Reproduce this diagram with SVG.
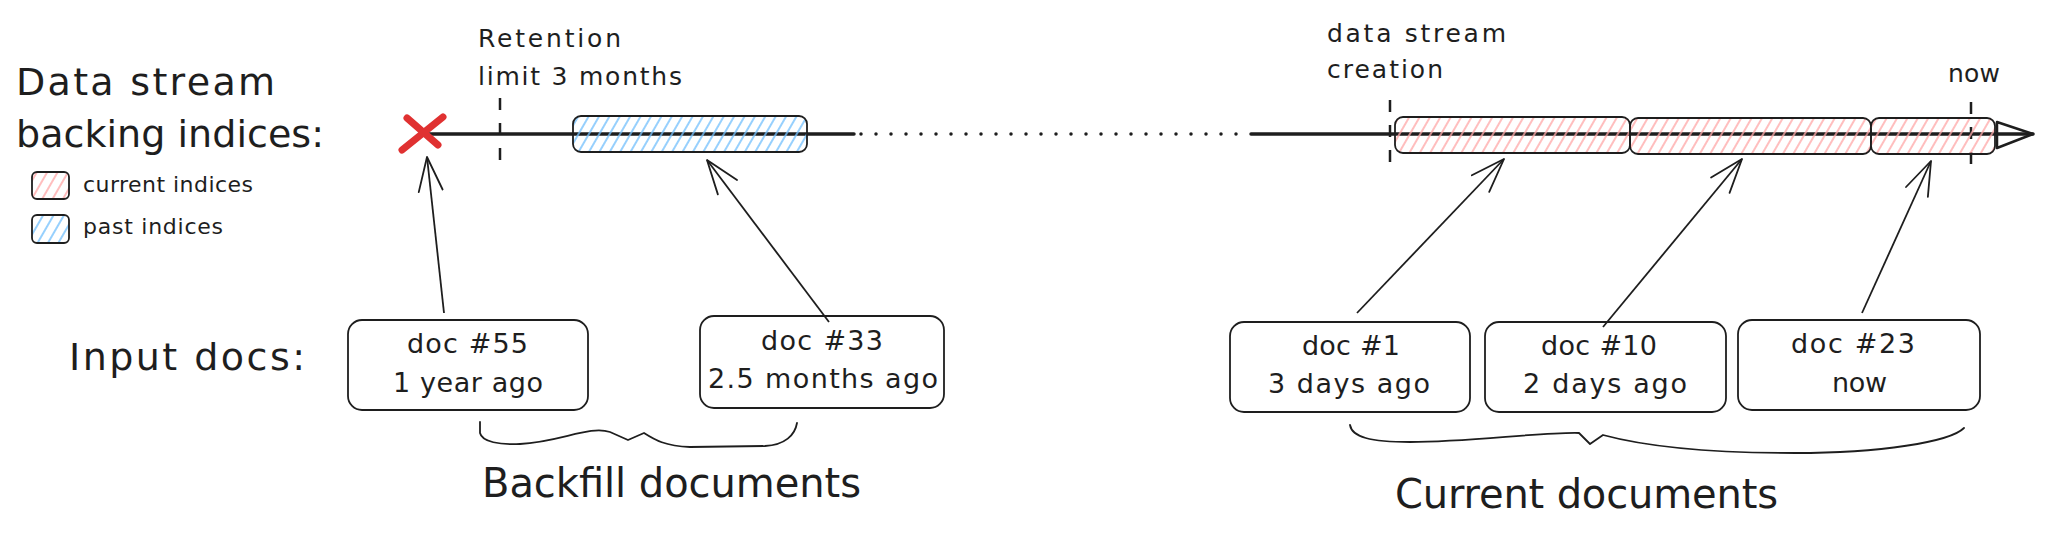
<svg xmlns="http://www.w3.org/2000/svg" width="2048" height="540" viewBox="0 0 2048 540">
<defs>
<pattern id="hPink" patternUnits="userSpaceOnUse" width="9" height="9" patternTransform="rotate(30)">
<line x1="1" y1="0" x2="1" y2="9" stroke="#ffa8a8" stroke-width="1.5"/>
</pattern>
<pattern id="hBlue" patternUnits="userSpaceOnUse" width="9" height="9" patternTransform="rotate(30)">
<line x1="1" y1="0" x2="1" y2="9" stroke="#74c0fc" stroke-width="1.5"/>
</pattern>
<marker id="ah" markerUnits="userSpaceOnUse" markerWidth="40" markerHeight="40" refX="36" refY="14" orient="auto">
<path d="M2,2 L36,14 L2,26" fill="none" stroke="#1e1e1e" stroke-width="1.8" stroke-linecap="round" stroke-linejoin="round"/>
</marker>
</defs>
<style>
text{font-family:"DejaVu Sans","Liberation Sans",sans-serif;fill:#1e1e1e}
.big{font-size:38px}
.mid{font-size:25px}
.leg{font-size:22px}
.doc{font-size:27px}
.foot{font-size:40px}
.box{fill:none;stroke:#1e1e1e;stroke-width:1.8}
.pink{fill:url(#hPink);stroke:#1e1e1e;stroke-width:1.8}
.blue{fill:url(#hBlue);stroke:#1e1e1e;stroke-width:1.8}
.tick{stroke:#1e1e1e;stroke-width:2.5;stroke-dasharray:12 13;fill:none}
.axis{stroke:#1e1e1e;stroke-width:3.5;fill:none;stroke-linecap:round}
.arrow{stroke:#1e1e1e;stroke-width:1.8;fill:none;marker-end:url(#ah)}
.brace{stroke:#1e1e1e;stroke-width:1.8;fill:none;stroke-linejoin:round;stroke-linecap:round}
</style>
<rect width="2048" height="540" fill="#ffffff"/>

<g id="title">
<text class="big" x="16" y="95" textLength="259" lengthAdjust="spacing">Data stream</text>
<text class="big" x="16" y="147" textLength="308" lengthAdjust="spacing">backing indices:</text>
</g>
<g id="legend">
<rect class="pink" x="32" y="172" width="37" height="27" rx="5"/>
<text class="leg" x="83" y="192" textLength="170" lengthAdjust="spacing">current indices</text>
<rect class="blue" x="32" y="215" width="37" height="28" rx="5"/>
<text class="leg" x="83" y="234" textLength="140" lengthAdjust="spacing">past indices</text>
</g>

<g id="timeline">
<line class="axis" x1="420" y1="134" x2="854" y2="134"/>
<line class="axis" x1="861" y1="134" x2="1240" y2="134" stroke-width="4.5" stroke-dasharray="0 15"/>
<line class="axis" x1="1251" y1="134" x2="2033" y2="134"/>
<polygon points="1997,122 2033,134 1997,148" fill="none" stroke="#1e1e1e" stroke-width="2.5" stroke-linejoin="round"/>
</g>

<g id="retention-limit">
<line class="tick" x1="500" y1="98" x2="500" y2="164"/>
<text class="mid" x="478" y="47" textLength="143" lengthAdjust="spacing">Retention</text>
<text class="mid" x="478" y="85" textLength="204" lengthAdjust="spacing">limit 3 months</text>
</g>
<g id="creation">
<line class="tick" x1="1390" y1="100" x2="1390" y2="166"/>
<text class="mid" x="1327" y="42" textLength="179" lengthAdjust="spacing">data stream</text>
<text class="mid" x="1327" y="78" textLength="116" lengthAdjust="spacing">creation</text>
</g>
<g id="now">
<line class="tick" x1="1971" y1="102" x2="1971" y2="168"/>
<text class="mid" x="1948" y="82" textLength="52" lengthAdjust="spacing">now</text>
</g>

<g id="past-index">
<rect class="blue" x="573" y="116" width="234" height="36" rx="8"/>
</g>
<g id="current-index-1">
<rect class="pink" x="1395" y="117" width="235" height="36" rx="8"/>
</g>
<g id="current-index-2">
<rect class="pink" x="1630" y="118" width="241" height="36" rx="8"/>
</g>
<g id="current-index-3">
<rect class="pink" x="1871" y="118" width="124" height="36" rx="8"/>
</g>

<g id="deleted">
<line x1="407" y1="118" x2="438" y2="145" stroke="#e03131" stroke-width="7" stroke-linecap="round"/>
<line x1="402" y1="150" x2="443" y2="117" stroke="#e03131" stroke-width="7" stroke-linecap="round"/>
</g>

<g id="input-label">
<text class="big" x="69" y="370" textLength="236" lengthAdjust="spacing">Input docs:</text>
</g>

<g id="doc55">
<rect class="box" x="348" y="320" width="240" height="90" rx="14"/>
<text class="doc" x="407" y="353" textLength="121" lengthAdjust="spacing">doc #55</text>
<text class="doc" x="393" y="392" textLength="150" lengthAdjust="spacing">1 year ago</text>
</g>
<g id="doc33">
<rect class="box" x="700" y="316" width="244" height="92" rx="14"/>
<text class="doc" x="761" y="350" textLength="122" lengthAdjust="spacing">doc #33</text>
<text class="doc" x="708" y="388" textLength="230" lengthAdjust="spacing">2.5 months ago</text>
</g>
<g id="doc1">
<rect class="box" x="1230" y="322" width="240" height="90" rx="14"/>
<text class="doc" x="1302" y="355" textLength="98" lengthAdjust="spacing">doc #1</text>
<text class="doc" x="1268" y="393" textLength="162" lengthAdjust="spacing">3 days ago</text>
</g>
<g id="doc10">
<rect class="box" x="1485" y="322" width="241" height="90" rx="14"/>
<text class="doc" x="1541" y="355" textLength="116" lengthAdjust="spacing">doc #10</text>
<text class="doc" x="1523" y="393" textLength="164" lengthAdjust="spacing">2 days ago</text>
</g>
<g id="doc23">
<rect class="box" x="1738" y="320" width="242" height="90" rx="14"/>
<text class="doc" x="1791" y="353" textLength="124" lengthAdjust="spacing">doc #23</text>
<text class="doc" x="1832" y="392" textLength="55" lengthAdjust="spacing">now</text>
</g>

<g id="connectors">
<line class="arrow" x1="444" y1="313" x2="427" y2="157"/>
<line class="arrow" x1="829" y1="322" x2="707" y2="160"/>
<line class="arrow" x1="1357" y1="313" x2="1504" y2="159"/>
<line class="arrow" x1="1603" y1="327" x2="1742" y2="159"/>
<line class="arrow" x1="1862" y1="313" x2="1931" y2="161"/>
</g>

<g id="backfill">
<path class="brace" d="M480,422 L480,433 C482,442 500,445 520,444 C560,442 590,425 610,432 L628,440 L644,433 C655,440 665,446 690,447 L765,446 C785,445 795,435 797,423"/>
<text class="foot" x="482" y="497" textLength="379" lengthAdjust="spacing">Backfill documents</text>
</g>
<g id="current">
<path class="brace" d="M1350,425 C1352,437 1370,442 1410,442 C1470,442 1540,432 1579,433 L1590,444 L1603,435 C1640,445 1700,453 1795,453 C1880,453 1950,442 1964,428"/>
<text class="foot" x="1395" y="508" textLength="383" lengthAdjust="spacing">Current documents</text>
</g>
</svg>
